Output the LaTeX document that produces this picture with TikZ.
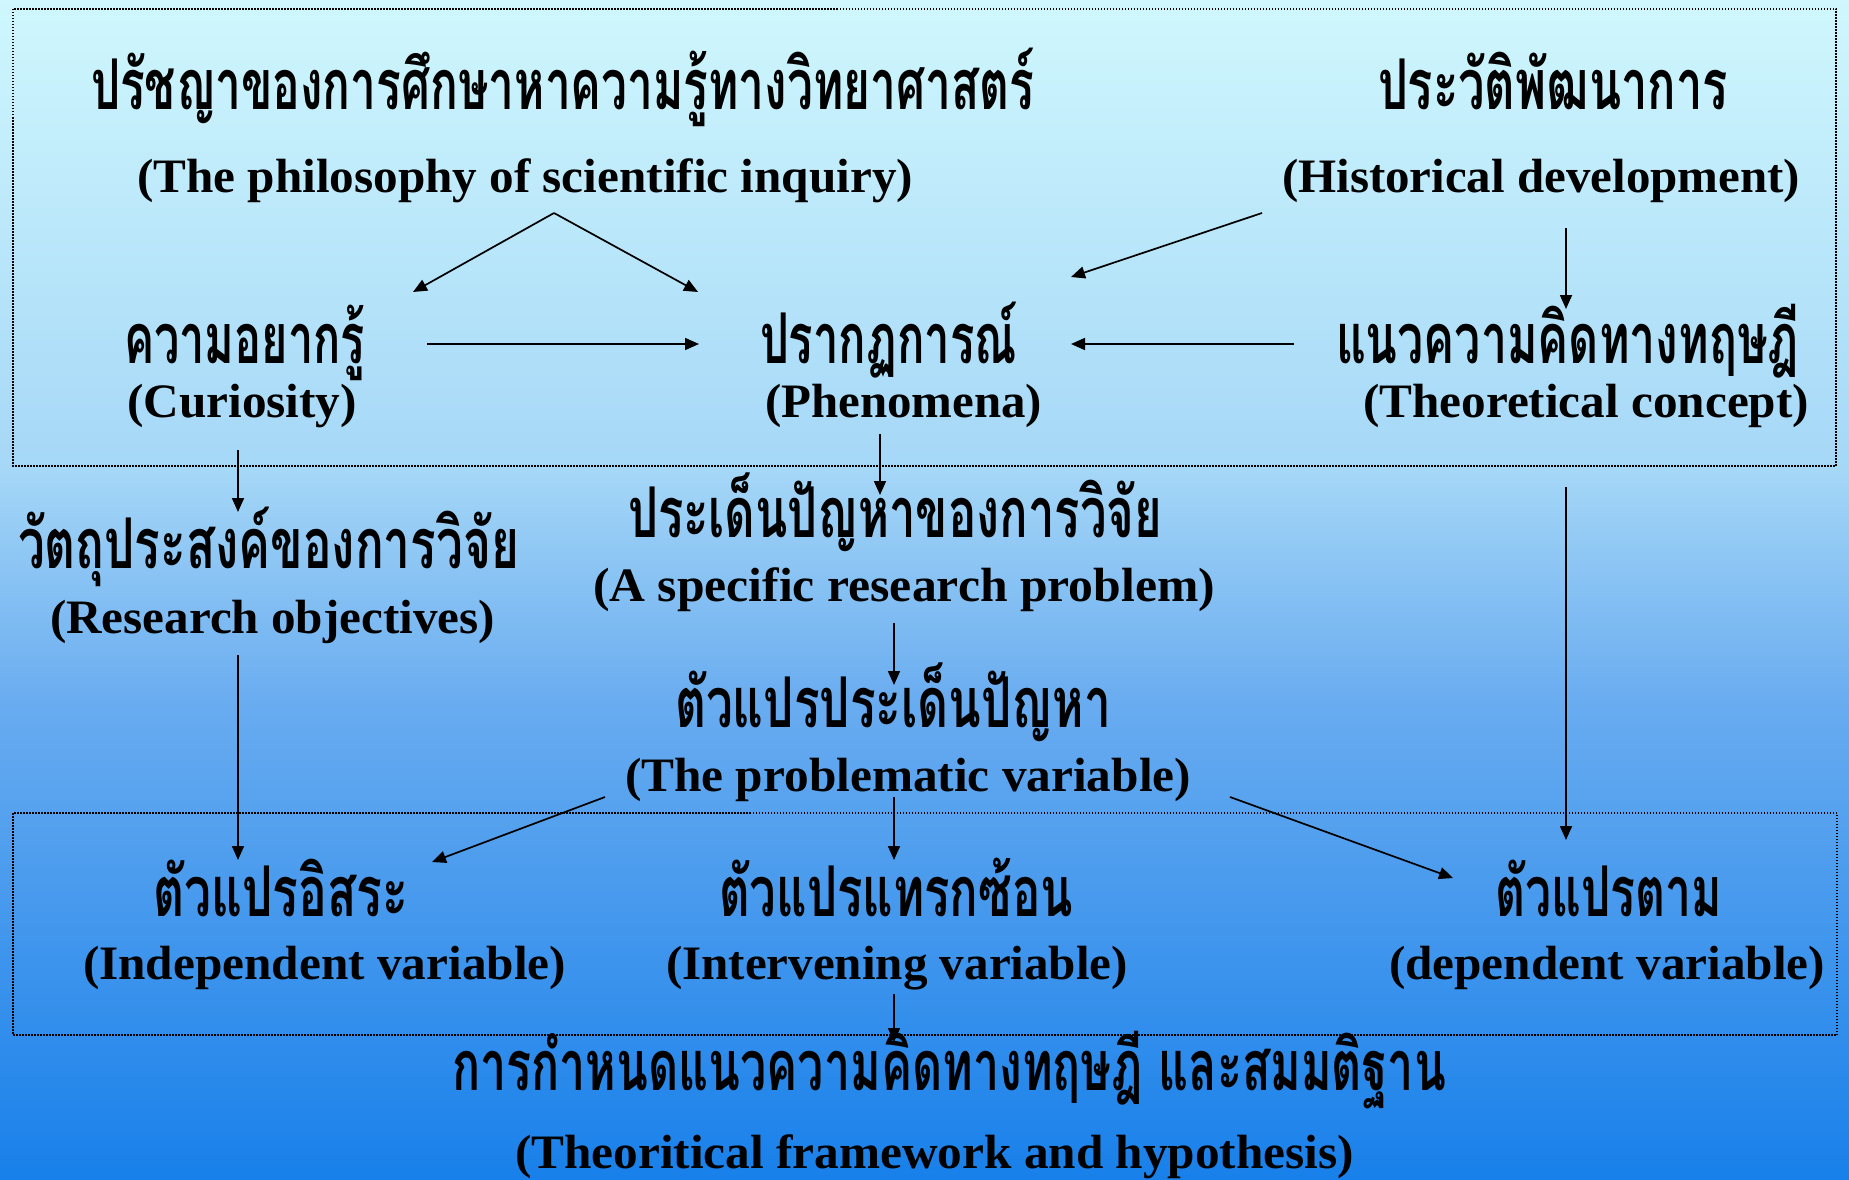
\documentclass[tikz,border=0pt]{standalone}
\usepackage{fontspec}
\usepackage{graphicx}
\setmainfont{Liberation Serif}
\newfontfamily\thai[Script=Thai]{Loma}
\usetikzlibrary{arrows.meta}
\definecolor{cTop}{RGB}{207,247,253}
\definecolor{cMidA}{RGB}{165,215,247}
\definecolor{cMidB}{RGB}{105,172,240}
\definecolor{cBot}{RGB}{24,128,234}
\pgfdeclareverticalshading{bgshade}{100bp}{color(0bp)=(cBot); color(25bp)=(cBot); color(45.3bp)=(cMidB); color(55.1bp)=(cMidA); color(75bp)=(cTop); color(100bp)=(cTop)}
\newcommand\entxt[2]{\resizebox{#1pt}{\height}{\fontsize{48}{50}\selectfont\bfseries #2}}
\newcommand\thtxt[2]{\resizebox{#1pt}{\height}{\thai\fontsize{70}{72}\selectfont\bfseries #2}}
\tikzset{
  tx/.style={anchor=base west, inner sep=0pt, outer sep=0pt},
  conn/.style={line width=1.7pt, -{Triangle[length=14pt,width=12pt]}},
  frame/.style={line width=1.3pt, dash pattern=on 1.5pt off 1.5pt}
}
\begin{document}
\begin{tikzpicture}[x=1pt,y=-1pt]
\useasboundingbox (0,0) rectangle (1849,1180);
\shade[shading=bgshade] (0,0) rectangle (1849,1180);
% frames
\draw[frame] (13,9) rectangle (1836,466);
\draw[frame] (13,813) rectangle (1837,1035);
% texts
\node[tx] (philTH) at (91,110) {\thtxt{943}{ปรัชญาของการศึกษาหาความรู้ทางวิทยาศาสตร์}};
\node[tx] (philEN) at (137,192) {\entxt{776}{(The philosophy of scientific inquiry)}};
\node[tx] (histTH) at (1378,110) {\thtxt{350}{ประวัติพัฒนาการ}};
\node[tx] (histEN) at (1282,192) {\entxt{518}{(Historical development)}};
\node[tx] (curTH) at (124,363) {\thtxt{241}{ความอยากรู้}};
\node[tx] (curEN) at (127,417) {\entxt{230}{(Curiosity)}};
\node[tx] (phenTH) at (760,363) {\thtxt{257}{ปรากฏการณ์}};
\node[tx] (phenEN) at (765,417) {\entxt{277}{(Phenomena)}};
\node[tx] (theoTH) at (1336,363) {\thtxt{463}{แนวความคิดทางทฤษฎี}};
\node[tx] (theoEN) at (1363,417) {\entxt{446}{(Theoretical concept)}};
\node[tx] (objTH) at (18,568) {\thtxt{501}{วัตถุประสงค์ของการวิจัย}};
\node[tx] (objEN) at (50,633) {\entxt{445}{(Research objectives)}};
\node[tx] (probTH) at (628,537) {\thtxt{534}{ประเด็นปัญหาของการวิจัย}};
\node[tx] (probEN) at (593,601) {\entxt{622}{(A specific research problem)}};
\node[tx] (varTH) at (675,727) {\thtxt{436}{ตัวแปรประเด็นปัญหา}};
\node[tx] (varEN) at (625,791) {\entxt{566}{(The problematic variable)}};
\node[tx] (indTH) at (153,916) {\thtxt{255}{ตัวแปรอิสระ}};
\node[tx] (indEN) at (83,979) {\entxt{483}{(Independent variable)}};
\node[tx] (intTH) at (719,916) {\thtxt{354}{ตัวแปรแทรกซ้อน}};
\node[tx] (intEN) at (666,979) {\entxt{462}{(Intervening variable)}};
\node[tx] (depTH) at (1495,916) {\thtxt{227}{ตัวแปรตาม}};
\node[tx] (depEN) at (1389,979) {\entxt{436}{(dependent variable)}};
\node[tx] (frameTH) at (452,1090) {\thtxt{994}{การกำหนดแนวความคิดทางทฤษฎี และสมมติฐาน}};
\node[tx] (frameEN) at (515,1168) {\entxt{839}{(Theoritical framework and hypothesis)}};
% connector end points
\coordinate (philOut) at (554,213);
\coordinate (curIn) at (413,292);
\coordinate (phenInL) at (698,292);
\coordinate (curOut) at (427,344);
\coordinate (phenInM) at (699,344);
\coordinate (histOutL) at (1262,213);
\coordinate (phenInR) at (1071,277);
\coordinate (histOutD) at (1566,228);
\coordinate (theoIn) at (1566,309);
\coordinate (theoOutL) at (1294,344);
\coordinate (phenInT) at (1071,344);
\coordinate (curOutD) at (238,450);
\coordinate (objIn) at (238,512);
\coordinate (phenOutD) at (880,434);
\coordinate (probIn) at (880,495);
\coordinate (probOut) at (894,623);
\coordinate (varIn) at (894,685);
\coordinate (objOut) at (238,655);
\coordinate (indInA) at (238,860);
\coordinate (theoOutD) at (1566,487);
\coordinate (depInA) at (1566,840);
\coordinate (varOutL) at (605,797);
\coordinate (indInB) at (432,862);
\coordinate (varOutD) at (894,797);
\coordinate (intIn) at (894,860);
\coordinate (varOutR) at (1230,797);
\coordinate (depInB) at (1453,878);
\coordinate (intOut) at (894,994);
\coordinate (frameIn) at (894,1042);
% connectors
\draw[conn] (philOut) -- (curIn);
\draw[conn] (philOut) -- (phenInL);
\draw[conn] (curOut) -- (phenInM);
\draw[conn] (histOutL) -- (phenInR);
\draw[conn] (histOutD) -- (theoIn);
\draw[conn] (theoOutL) -- (phenInT);
\draw[conn] (curOutD) -- (objIn);
\draw[conn] (phenOutD) -- (probIn);
\draw[conn] (probOut) -- (varIn);
\draw[conn] (objOut) -- (indInA);
\draw[conn] (theoOutD) -- (depInA);
\draw[conn] (varOutL) -- (indInB);
\draw[conn] (varOutD) -- (intIn);
\draw[conn] (varOutR) -- (depInB);
\draw[conn] (intOut) -- (frameIn);
\end{tikzpicture}
\end{document}
